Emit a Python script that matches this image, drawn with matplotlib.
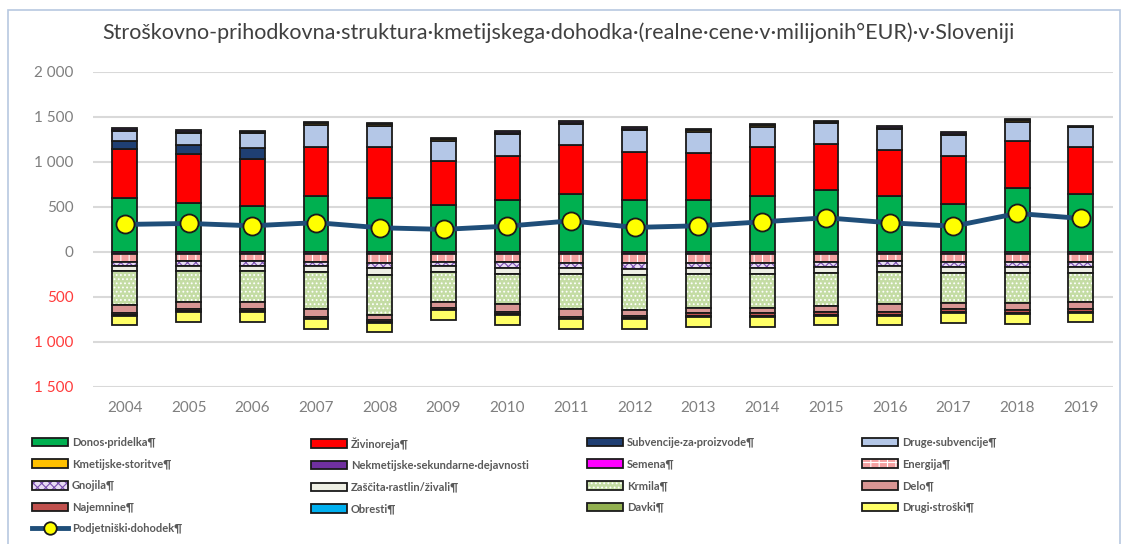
import matplotlib
matplotlib.use("Agg")
import matplotlib.pyplot as plt
import numpy as np
from matplotlib.patches import Patch, Rectangle
from matplotlib.lines import Line2D
from matplotlib.legend_handler import HandlerTuple

plt.rcParams['font.family'] = ['Lato', 'DejaVu Sans']
plt.rcParams['hatch.linewidth'] = 0.8

years = ['2004', '2005', '2006', '2007', '2008', '2009', '2010', '2011',
         '2012', '2013', '2014', '2015', '2016', '2017', '2018', '2019']

# prihodki (pozitivni del)
donos = [600, 538, 511, 615, 593, 519, 574, 641, 574, 574, 622, 686, 622, 530, 708, 641]
zivinoreja = [538, 544, 519, 548, 574, 489, 493, 545, 530, 526, 538, 514, 508, 533, 522, 526]
subv_proizvodi = [92, 104, 119, 0, 0, 0, 0, 0, 0, 0, 0, 0, 0, 0, 0, 0]
druge_subv = [111, 129, 166, 249, 230, 225, 241, 233, 248, 233, 229, 227, 230, 234, 214, 215]
kmet_storitve = [15, 17, 13, 16, 18, 17, 16, 16, 15, 15, 15, 13, 16, 15, 15, 9]
nekmetijske = [15, 17, 13, 16, 18, 17, 17, 17, 15, 15, 15, 12, 17, 15, 15, 9]

# stroški (negativni del)
semena = [25, 25, 25, 25, 25, 25, 25, 25, 25, 25, 25, 25, 25, 25, 25, 25]
energija = [85, 80, 80, 85, 95, 85, 90, 95, 100, 95, 95, 85, 80, 85, 85, 85]
gnojila = [45, 50, 50, 50, 65, 50, 60, 60, 65, 60, 60, 55, 50, 55, 55, 55]
zascita = [60, 60, 60, 62, 74, 62, 69, 72, 73, 72, 72, 68, 67, 68, 68, 68]
krmila = [378, 345, 345, 419, 438, 334, 341, 389, 386, 370, 370, 371, 356, 334, 334, 327]
delo = [85, 81, 81, 81, 63, 66, 86, 81, 66, 63, 63, 67, 89, 74, 85, 81]
najemnine = [20, 20, 20, 20, 19, 20, 23, 20, 20, 27, 27, 27, 31, 27, 27, 27]
obresti = [5, 5, 5, 5, 5, 5, 5, 5, 5, 5, 5, 5, 5, 5, 5, 5]
davki = [5, 5, 5, 5, 5, 5, 5, 5, 5, 5, 5, 5, 5, 5, 5, 5]
drugi = [100, 111, 111, 104, 104, 108, 111, 111, 111, 111, 111, 107, 107, 111, 111, 104]

dohodek = [304, 315, 289, 324, 267, 249, 285, 344, 271, 289, 333, 378, 322, 285, 426, 371]

# (ime, podatki, barva, vzorec, barva vzorca)
prihodki = [
    ('Donos·pridelka¶', donos, '#00b050', None, None),
    ('Živinoreja¶', zivinoreja, '#ff0000', None, None),
    ('Subvencije·za·proizvode¶', subv_proizvodi, '#1f3f73', None, None),
    ('Druge·subvencije¶', druge_subv, '#b4c7e7', None, None),
    ('Kmetijske·storitve¶', kmet_storitve, '#ffc000', None, None),
    ('Nekmetijske·sekundarne·dejavnosti', nekmetijske, '#7030a0', None, None),
]
stroski = [
    ('Semena¶', semena, '#ff00ff', None, None),
    ('Energija¶', energija, '#f4a0a0', '++', 'white'),
    ('Gnojila¶', gnojila, '#e8dcf4', 'xxxx', '#7a4fb0'),
    ('Zaščita·rastlin/živali¶', zascita, '#eeefe4', None, None),
    ('Krmila¶', krmila, '#c4dca4', '....', 'white'),
    ('Delo¶', delo, '#d99694', None, None),
    ('Najemnine¶', najemnine, '#c0504d', None, None),
    ('Obresti¶', obresti, '#00b0f0', None, None),
    ('Davki¶', davki, '#92b050', None, None),
    ('Drugi·stroški¶', drugi, '#ffff66', None, None),
]

fig = plt.figure(figsize=(11.24, 5.44), dpi=100)
ax = fig.add_axes([0.0827, 0.289, 0.9073, 0.579])

x = np.arange(len(years))
w = 0.39
edge = '#1a1a1a'
handles = {}


def draw_stack(series, sign):
    bottom = np.zeros(len(years))
    for name, vals, col, hatch, hcol in series:
        v = sign * np.array(vals, dtype=float)
        if hatch:
            ax.bar(x, v, w, bottom=bottom, color=col, hatch=hatch,
                   edgecolor=hcol, linewidth=0, zorder=2)
            ax.bar(x, v, w, bottom=bottom, fill=False, edgecolor=edge,
                   linewidth=1.3, zorder=2)
            handles[name] = (Patch(facecolor=col, hatch=hatch, edgecolor=hcol, linewidth=0),
                             Patch(fill=False, edgecolor=edge, linewidth=1.3))
        else:
            ax.bar(x, v, w, bottom=bottom, color=col, edgecolor=edge,
                   linewidth=1.3, zorder=2)
            handles[name] = Patch(facecolor=col, edgecolor=edge, linewidth=1.3)
        bottom = bottom + v


draw_stack(prihodki, 1)
draw_stack(stroski, -1)

ax.plot(x, dohodek, color='#1f4e79', lw=3.5, marker='o', ms=13,
        mfc='#ffff00', mec='#1a1a1a', mew=1.3, zorder=4)
handles['Podjetniški·dohodek¶'] = Line2D([], [], color='#1f4e79', lw=3.5, marker='o',
                                        ms=9, mfc='#ffff00', mec='#1a1a1a', mew=1.3)

ax.set_xlim(-0.5, 15.5)
ax.set_ylim(-1500, 2000)
yt = [-1500, -1000, -500, 0, 500, 1000, 1500, 2000]
ax.set_yticks(yt)
ax.set_yticklabels([f'{abs(t):,}'.replace(',', ' ') for t in yt], fontsize=11)
for lab, t in zip(ax.get_yticklabels(), yt):
    lab.set_color('#ff3b3b' if t < 0 else '#7f7f7f')
ax.set_xticks(x)
ax.set_xticklabels(years, fontsize=11, color='#7f7f7f')
ax.tick_params(length=0, pad=10)
ax.tick_params(axis='y', pad=14)
ax.yaxis.grid(True, color='#d9d9d9', lw=1.5, zorder=0)
ax.set_axisbelow(True)
for s in ax.spines.values():
    s.set_visible(False)

fig.text(0.497, 0.94, 'Stroškovno-prihodkovna·struktura·kmetijskega·dohodka·(realne·cene·v·milijonih°EUR)·v·Sloveniji',
         ha='center', va='center', fontsize=15.5, color='#404040')

# okvir
fig.patches.append(Rectangle((8 / 1124, -0.05), 1112 / 1124, 1.05 - 10 / 544,
                             transform=fig.transFigure, fill=False,
                             edgecolor='#b8c8e0', lw=1.2))

# legenda v štirih stolpcih
cols = [
    ['Donos·pridelka¶', 'Kmetijske·storitve¶', 'Gnojila¶', 'Najemnine¶', 'Podjetniški·dohodek¶'],
    ['Živinoreja¶', 'Nekmetijske·sekundarne·dejavnosti', 'Zaščita·rastlin/živali¶', 'Obresti¶'],
    ['Subvencije·za·proizvode¶', 'Semena¶', 'Krmila¶', 'Davki¶'],
    ['Druge·subvencije¶', 'Energija¶', 'Delo¶', 'Drugi·stroški¶'],
]
col_x = [32, 311, 587, 862]
for cx, names in zip(col_x, cols):
    leg = fig.legend([handles[n] for n in names], names, loc='upper left',
                     bbox_to_anchor=(cx / 1124, 1 - 437 / 544), frameon=False,
                     fontsize=8, handlelength=3.2, handleheight=0.8,
                     handletextpad=0.4, labelspacing=0.95, borderaxespad=0,
                     borderpad=0, handler_map={tuple: HandlerTuple(ndivide=1, pad=0)})
    for t in leg.get_texts():
        t.set_color('#595959')
        t.set_fontweight('bold')

fig.savefig('out.png', dpi=100)
